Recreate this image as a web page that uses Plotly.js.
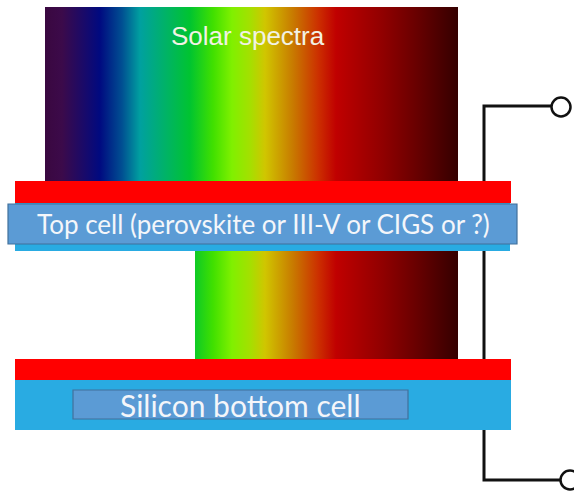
<!DOCTYPE html>
<html>
<head>
<meta charset="utf-8">
<script src="https://cdn.plot.ly/plotly-3.0.1.min.js"></script>
<style>
    html, body { margin: 0; padding: 0; background: #ffffff; }
    #chart { width: 574px; height: 491px; }
</style>
</head>
<body>
<div id="chart"></div>
<script>
// Spectrum gradient stops (pixel position along the band) and colours
const spectrumX = [45, 62, 100, 122, 140, 190, 213, 232, 250, 265, 293, 318, 336, 383, 420, 458];
const spectrumColors = ['#3a0840', '#3c0a4a', '#000a80', '#004f92', '#00a0a0', '#00c430', '#40e000',
    '#80f000', '#a4e000', '#d0c600', '#c87a00', '#cc3000', '#c00000', '#900000', '#640000', '#340000'];

// Light bands: top (full spectrum) and bottom (what reaches the silicon)
const bandX0 = [45, 195];
const bandX1 = [458, 458];
const bandY0 = [7, 251];
const bandY1 = [181, 359];

// Stack layers, drawn in order
const layerX0 = [15, 15, 8, 15, 15, 73];
const layerX1 = [511, 510, 517, 511, 511, 408];
const layerY0 = [181, 203, 204, 359, 380, 390];
const layerY1 = [203, 251, 244, 380, 430, 419];
const layerFill = ['#ff0000', '#29abe2', '#5b9bd5', '#ff0000', '#29abe2', '#5b9bd5'];
const layerLine = [null, null, '#41719c', null, null, '#41719c'];

// Wire and terminals
const wireX = [561, 484, 484, 570];
const wireY = [106, 106, 480, 480];
const terminalX = [561, 570];
const terminalY = [107, 480];

// Labels
const labelText = ['Solar spectra', 'Top cell (perovskite or III-V or CIGS or ?)', 'Silicon bottom cell'];
const labelX = [248, 263, 240];
const labelY = [36, 224, 405];

const gx0 = spectrumX[0];
const gx1 = spectrumX[spectrumX.length - 1];
const colorscale = spectrumX.map((x, i) => [(x - gx0) / (gx1 - gx0), spectrumColors[i]]);

const traces = [];

// Wire first so the stack covers it
traces.push({
    type: 'scatter',
    mode: 'lines',
    x: wireX,
    y: wireY,
    line: { color: '#111111', width: 3 },
    hoverinfo: 'skip',
    showlegend: false
});
traces.push({
    type: 'scatter',
    mode: 'markers',
    x: terminalX,
    y: terminalY,
    marker: { size: 19, color: '#ffffff', line: { color: '#111111', width: 2.5 } },
    hoverinfo: 'skip',
    showlegend: false,
    cliponaxis: false
});

bandX0.forEach((x0, i) => {
    const x1 = bandX1[i], y0 = bandY0[i], y1 = bandY1[i];
    traces.push({
        type: 'scatter',
        mode: 'none',
        x: [x0, x1, x1, x0, x0],
        y: [y0, y0, y1, y1, y0],
        fill: 'toself',
        fillgradient: { type: 'horizontal', start: gx0, stop: gx1, colorscale: colorscale },
        hoverinfo: 'skip',
        showlegend: false
    });
});

const shapes = layerX0.map((x0, i) => ({
    type: 'rect',
    layer: 'above',
    xref: 'x', yref: 'y',
    x0: x0, x1: layerX1[i],
    y0: layerY0[i], y1: layerY1[i],
    fillcolor: layerFill[i],
    line: layerLine[i] ? { color: layerLine[i], width: 1.2 } : { width: 0 }
}));

const annotations = labelText.map((t, i) => ({
    x: labelX[i],
    y: labelY[i],
    xref: 'x', yref: 'y',
    text: t,
    showarrow: false,
    xanchor: 'center',
    yanchor: 'middle',
    font: i === 0
        ? { family: 'Liberation Sans, Arial, sans-serif', size: 26, color: '#f2f2e4' }
        : { family: 'Lato, sans-serif', size: i === 1 ? 26 : 30, color: '#f4f6fa' }
}));

const layout = {
    width: 574,
    height: 491,
    margin: { t: 0, b: 0, l: 0, r: 0 },
    paper_bgcolor: '#ffffff',
    plot_bgcolor: '#ffffff',
    xaxis: { range: [0, 574], visible: false, fixedrange: true },
    yaxis: { range: [491, 0], visible: false, fixedrange: true },
    shapes: shapes,
    annotations: annotations,
    showlegend: false
};

Plotly.newPlot('chart', traces, layout, { staticPlot: true, displayModeBar: false });
</script>
</body>
</html>
